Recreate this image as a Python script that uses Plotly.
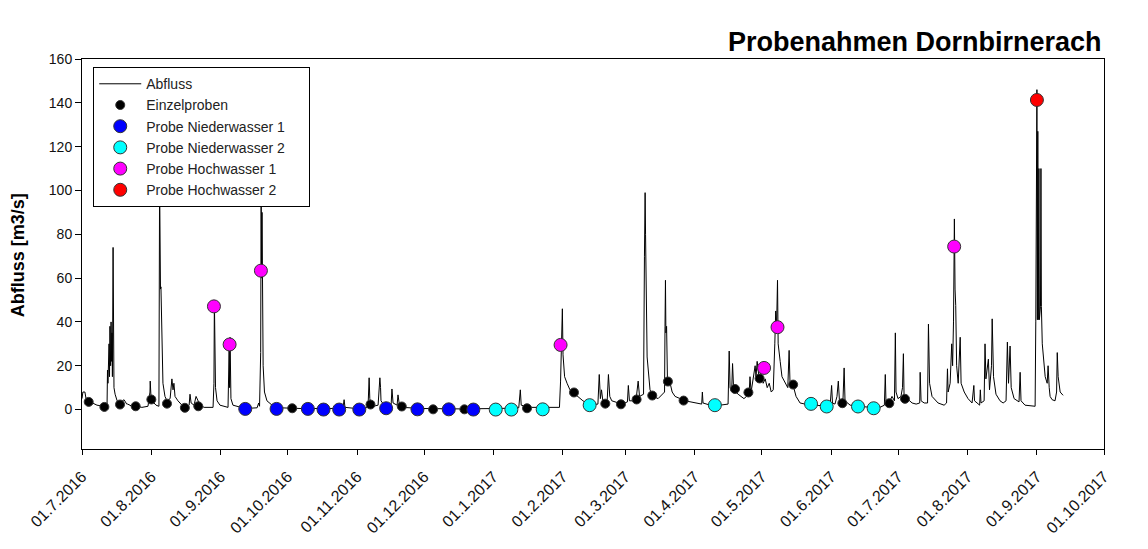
import pandas as pd
import plotly.graph_objects as go

# ---------------- data ----------------
start_date = "2016-07-01"

# Abfluss (discharge): day offset since 01.07.2016, value m3/s
flow_day = [0, 0.4, 1.3, 1.8, 2.7, 4.5, 6.7, 9.8, 11.2, 11.4, 11.6, 12.1, 12.3, 12.5, 12.8, 13.0, 13.2, 13.4, 13.6,
            13.9, 14.1, 14.3, 14.8, 15.7, 17.0, 18.8, 20.0, 20.4, 22.4, 24.2, 26.8, 29.5, 30.4, 30.5, 30.9, 31.3,
            33.1, 34.4, 34.7, 34.8, 34.9, 35.0, 35.1, 35.3, 35.8, 36.2, 37.1, 38.0, 39.4, 39.8, 40.2, 40.7, 41.1,
            41.6, 42.9, 44.7, 46.5, 47.9, 48.3, 48.8, 50.1, 51.0, 51.4, 52.8, 54.6, 58.6, 59.0, 59.2, 59.7, 60.4,
            61.7, 65.3, 65.8, 66.0, 66.2, 66.4, 66.6, 67.5, 70.7, 72.9, 78.3, 79.0, 79.4, 79.9, 80.1, 80.3, 80.5,
            80.7, 81.0, 81.6, 82.7, 85.0, 88.6, 97.5, 110.9, 116.7, 117.2, 117.6, 124.3, 127.9, 128.4, 128.7,
            129.1, 130.2, 132.4, 133.2, 133.5, 133.7, 135.1, 138.2, 138.6, 139.1, 140.9, 141.3, 141.8, 143.6,
            151.2, 169.0, 186.9, 195.3, 196.0, 196.4, 200.4, 209.3, 213.5, 214.0, 214.4, 214.8, 215.1, 215.8,
            216.9, 218.2, 220.5, 224.0, 227.1, 230.7, 231.3, 231.8, 232.3, 232.9, 234.8, 235.4, 236.0, 236.9,
            241.4, 243.9, 244.3, 244.8, 247.7, 248.7, 249.3, 251.1, 251.5, 251.8, 252.0, 252.2, 252.7, 254.0,
            255.4, 257.6, 260.5, 260.7, 260.9, 261.1, 261.4, 261.8, 263.0, 263.9, 265.2, 269.7, 274.2, 277.1,
            277.4, 277.7, 280.9, 285.3, 288.9, 289.4, 289.8, 290.5, 290.9, 291.4, 293.4, 296.0, 298.3, 298.7,
            299.2, 300.1, 301.0, 301.4, 301.9, 302.8, 303.7, 304.6, 305.5, 306.4, 307.3, 308.2, 309.1, 309.8,
            310.2, 310.6, 311.0, 311.3, 311.8, 312.2, 313.0, 314.4, 315.6, 316.2, 316.6, 318.0, 319.3, 321.1,
            323.3, 327.7, 334.5, 335.2, 335.6, 336.7, 337.6, 338.2, 338.7, 340.3, 340.8, 341.2, 343.5, 347.9,
            352.4, 356.8, 358.8, 359.2, 359.5, 360.4, 361.3, 362.2, 363.3, 363.7, 364.0, 364.9, 366.2, 366.9,
            367.3, 367.6, 369.0, 371.2, 373.0, 374.6, 374.8, 375.2, 376.6, 378.1, 378.5, 379.0, 380.1, 382.8,
            385.5, 386.6, 387.0, 387.3, 388.2, 388.9, 389.3, 389.7, 390.1, 390.4, 390.7, 391.1, 391.8, 392.7,
            393.1, 394.5, 396.2, 398.0, 398.8, 399.1, 401.4, 401.7, 402.0, 403.4, 403.8, 404.2, 405.3, 405.8,
            406.7, 407.0, 407.6, 408.7, 410.5, 411.9, 413.2, 413.8, 414.3, 415.0, 415.5, 416.8, 419.0, 419.5,
            419.9, 421.7, 426.2, 426.5, 426.8, 427.0, 427.2, 427.4, 427.6, 427.9, 428.1, 428.6, 428.8, 429.0,
            429.4, 429.8, 430.7, 431.6, 432.0, 432.5, 432.9, 433.8, 435.1, 435.8, 436.1, 436.5, 437.4, 438.7]
flow_val = [5, 8, 8, 5, 4, 3, 2, 1.5, 2, 18, 12, 30, 15, 38, 20, 40, 22, 35, 15,
            74, 18, 10, 7, 4, 3, 4.5, 2.5, 2.5, 1.5, 1.5, 1, 1.5, 8, 13, 5, 4,
            2, 1.5, 105, 60, 100, 87, 55, 56, 20, 12, 6, 4, 5, 10, 14, 9, 12,
            6, 4, 2, 1, 2, 7, 3, 2, 6, 5, 2, 1, 1, 12, 50, 10, 4,
            2, 1, 28, 10, 33, 15, 5, 2, 1, 0.5, 0.8, 3, 1.5, 26, 100, 60, 90,
            40, 20, 8, 4, 2, 0.8, 0.5, 0.3, 0.5, 4.5, 1, 0.3, 1, 14.5, 5,
            3, 1.5, 2, 14.5, 10, 4, 2, 1.5, 9.4, 3, 2, 6.7, 3, 1,
            0.5, 0.3, 0.5, 0.8, 9, 2, 1, 0.8, 1, 13, 30, 46, 25, 15,
            12, 9, 7, 4, 2, 2.5, 16, 5, 9, 4, 3, 16, 6, 4,
            2.5, 3.5, 11, 4, 4, 13, 6, 7, 70, 99, 80, 60, 24, 9,
            6, 5, 8, 38, 59, 35, 38, 13, 12, 8, 6, 4, 3, 2.5,
            8, 3, 2, 2, 2.5, 26.7, 10, 8, 21, 9, 7, 5, 7, 15,
            8, 14, 20, 15, 22, 14, 17, 12, 14, 10, 12, 8, 9, 30,
            45, 38, 59, 30, 24, 22, 15, 12, 10, 27, 12, 11, 6, 3,
            2.5, 2, 1.5, 11, 3, 2.5, 6, 13, 4, 5, 19, 4, 2, 1.5,
            1, 1, 2, 16, 4, 3, 4, 6, 4, 35, 8, 5, 6, 10,
            25.5, 6, 5, 3, 2.5, 3, 17, 4, 3, 3, 39, 12, 6, 3,
            2, 3, 18.6, 8, 12, 30, 20, 40, 87, 55, 47.5, 20, 12, 33,
            12, 8, 5, 3, 11, 4, 2, 9, 3, 4, 30, 14, 23, 9,
            20, 41.4, 15, 7, 4, 3, 4, 30.8, 12, 29, 10, 5, 3.5, 17,
            4, 2, 1.5, 40, 127, 146, 41, 127, 41, 110, 41, 47, 110, 47,
            30, 24, 15, 12, 20, 10, 6, 4.5, 4, 8, 26, 15, 8, 6.5]

# Samples
einzel_dates = ["2016-07-04", "2016-07-11", "2016-07-18", "2016-07-25", "2016-08-01", "2016-08-08",
                "2016-08-16", "2016-08-22", "2016-10-03", "2016-11-07", "2016-11-21", "2016-12-05",
                "2016-12-19", "2017-01-16", "2017-02-06", "2017-02-20", "2017-02-27", "2017-03-06",
                "2017-03-13", "2017-03-20", "2017-03-27", "2017-04-19", "2017-04-25", "2017-04-30",
                "2017-05-15", "2017-06-06", "2017-06-27", "2017-07-04"]
einzel_vals = [3.5, 1.2, 2.3, 1.5, 4.6, 2.7, 0.8, 1.5, 0.6, 2.3, 1.4, 0.1,
               0.1, 0.6, 7.8, 2.7, 2.4, 4.6, 6.4, 12.8, 4.1, 9.4, 7.8, 14.2,
               11.4, 2.9, 2.9, 4.9]

nw1_dates = ["2016-09-12", "2016-09-26", "2016-10-10", "2016-10-17", "2016-10-24", "2016-11-02",
             "2016-11-14", "2016-11-28", "2016-12-12", "2016-12-23"]
nw1_vals = [0.3, 0.3, 0.3, 0.0, 0.0, 0.0, 0.6, 0.1, 0.1, 0.0]

nw2_dates = ["2017-01-02", "2017-01-09", "2017-01-23", "2017-02-13", "2017-04-10", "2017-05-23",
             "2017-05-30", "2017-06-13", "2017-06-20"]
nw2_vals = [0.0, 0.0, 0.1, 2.0, 2.0, 2.6, 1.4, 1.4, 0.6]

hw1_dates = ["2016-08-29", "2016-09-05", "2016-09-19", "2017-01-31", "2017-05-02", "2017-05-08", "2017-07-26"]
hw1_vals = [47.1, 29.7, 63.4, 29.5, 19.0, 37.6, 74.4]

hw2_dates = ["2017-09-01"]
hw2_vals = [141.3]

tick_dates = ["2016-07-01", "2016-08-01", "2016-09-01", "2016-10-01", "2016-11-01", "2016-12-01",
              "2017-01-01", "2017-02-01", "2017-03-01", "2017-04-01", "2017-05-01", "2017-06-01",
              "2017-07-01", "2017-08-01", "2017-09-01", "2017-10-01"]
tick_labels = ["01.7.2016", "01.8.2016", "01.9.2016", "01.10.2016", "01.11.2016", "01.12.2016",
               "01.1.2017", "01.2.2017", "01.3.2017", "01.4.2017", "01.5.2017", "01.6.2017",
               "01.7.2017", "01.8.2017", "01.9.2017", "01.10.2017"]

# ---------------- figure ----------------
FONT = "Arial, 'Liberation Sans', sans-serif"
flow_dates = pd.Timestamp(start_date) + pd.to_timedelta(flow_day, unit="D")

fig = go.Figure()
fig.add_trace(go.Scatter(x=flow_dates, y=flow_val, mode="lines", name="Abfluss",
                         line=dict(color="black", width=1)))

def add_samples(dates, vals, name, color, size):
    fig.add_trace(go.Scatter(x=pd.to_datetime(dates), y=vals, mode="markers", name=name,
                             marker=dict(color=color, size=size,
                                         line=dict(color="#333333", width=1))))

add_samples(einzel_dates, einzel_vals, "Einzelproben", "black", 9)
add_samples(nw1_dates, nw1_vals, "Probe Niederwasser 1", "#0000FF", 13)
add_samples(nw2_dates, nw2_vals, "Probe Niederwasser 2\u00a0\u00a0\u00a0\u00a0\u00a0", "#00FFFF", 13)
add_samples(hw1_dates, hw1_vals, "Probe Hochwasser 1", "#FF00FF", 13)
add_samples(hw2_dates, hw2_vals, "Probe Hochwasser 2", "#FF0000", 13)

fig.update_layout(
    width=1148, height=549,
    margin=dict(l=74, r=52, t=51, b=108),
    paper_bgcolor="white", plot_bgcolor="white",
    font=dict(family=FONT, size=14, color="#111111"),
    showlegend=True,
    legend=dict(x=0.011, y=0.979, xanchor="left", yanchor="top",
                bgcolor="white", bordercolor="black", borderwidth=1,
                font=dict(family=FONT, size=14, color="#222222"),
                tracegroupgap=0, itemsizing="trace", itemwidth=42),
    xaxis=dict(range=[pd.Timestamp("2016-07-01"), pd.Timestamp("2017-10-01")],
               tickmode="array", tickvals=pd.to_datetime(tick_dates), ticktext=tick_labels,
               tickangle=-45, ticks="outside", ticklen=5, tickcolor="black",
               ticklabelstandoff=6,
               showline=True, linecolor="black", linewidth=1, mirror=True,
               showgrid=False, zeroline=False,
               tickfont=dict(family=FONT, size=16, color="#111111")),
    yaxis=dict(range=[-18, 160], tickmode="array", tickvals=[0, 20, 40, 60, 80, 100, 120, 140, 160],
               ticks="outside", ticklen=6, tickcolor="black",
               showline=True, linecolor="black", linewidth=1, mirror=True,
               showgrid=False, zeroline=False,
               tickfont=dict(family=FONT, size=14, color="#111111")),
    annotations=[
        dict(text="<b>Probenahmen Dornbirnerach</b>", xref="paper", yref="paper",
             x=1.0, y=1.044, xanchor="right", yanchor="middle", showarrow=False,
             font=dict(family=FONT, size=27, color="black")),
        dict(text="<b>Abfluss [m3/s]</b>", xref="paper", yref="paper",
             x=-0.0626, y=0.497, xanchor="center", yanchor="middle", textangle=-90,
             showarrow=False, font=dict(family=FONT, size=18, color="black")),
    ],
)

fig.write_html("out.html")
